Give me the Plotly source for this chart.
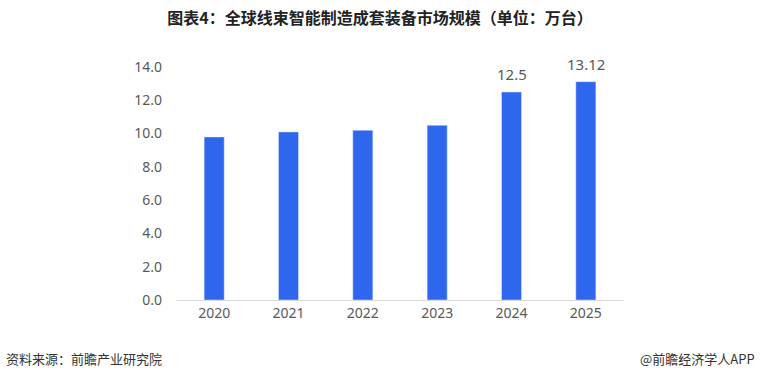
import plotly.graph_objects as go

years = ["2020", "2021", "2022", "2023", "2024", "2025"]
values = [9.8, 10.1, 10.2, 10.5, 12.5, 13.12]
labels = ["", "", "", "", "12.5", "13.12"]
y_ticks = [0, 2, 4, 6, 8, 10, 12, 14]
y_tick_text = ["0.0", "2.0", "4.0", "6.0", "8.0", "10.0", "12.0", "14.0"]

fig = go.Figure(go.Bar(
    x=years, y=values, marker=dict(color="#2F66EE"), cliponaxis=False,
))
for i, (v, lab) in enumerate(zip(values, labels)):
    if lab:
        fig.add_annotation(x=i, y=v, xref="x", yref="y", text=lab, showarrow=False,
                           yanchor="bottom", yshift=6,
                           font=dict(family="Noto Sans, Arial", size=15, color="#595959"))
fig.update_layout(
    width=760, height=376, plot_bgcolor="white", paper_bgcolor="white",
    margin=dict(l=177, r=137, t=67, b=76),
    bargap=0.73, showlegend=False,
    title=dict(text="<b>图表4：全球线束智能制造成套装备市场规模（单位：万台）</b>",
               x=0.5, xanchor="center", y=0.95, yanchor="middle",
               font=dict(family="Noto Sans CJK SC", size=16, color="#222222")),
)
fig.update_xaxes(type="category", showline=True, linecolor="#D9D9D9", linewidth=1, ticks="",
                 tickfont=dict(family="Noto Sans, Arial", size=14, color="#595959"))
fig.update_yaxes(range=[0, 14], tickvals=y_ticks, ticktext=y_tick_text, showgrid=False,
                 zeroline=False, ticks="", ticklabelstandoff=14,
                 tickfont=dict(family="Noto Sans, Arial", size=14, color="#595959"))
fig.add_annotation(text="资料来源：前瞻产业研究院", xref="paper", yref="paper",
                   x=-177/446, y=-0.25, xanchor="left", yanchor="middle", showarrow=False,
                   font=dict(family="Noto Sans CJK SC", size=13, color="#333333"), xshift=4)
fig.add_annotation(text="@前瞻经济学人APP", xref="paper", yref="paper",
                   x=1 + 137/446, y=-0.25, xanchor="right", yanchor="middle", showarrow=False,
                   font=dict(family="Noto Sans CJK SC", size=13, color="#333333"), xshift=-3)
fig.write_html("out.html")
